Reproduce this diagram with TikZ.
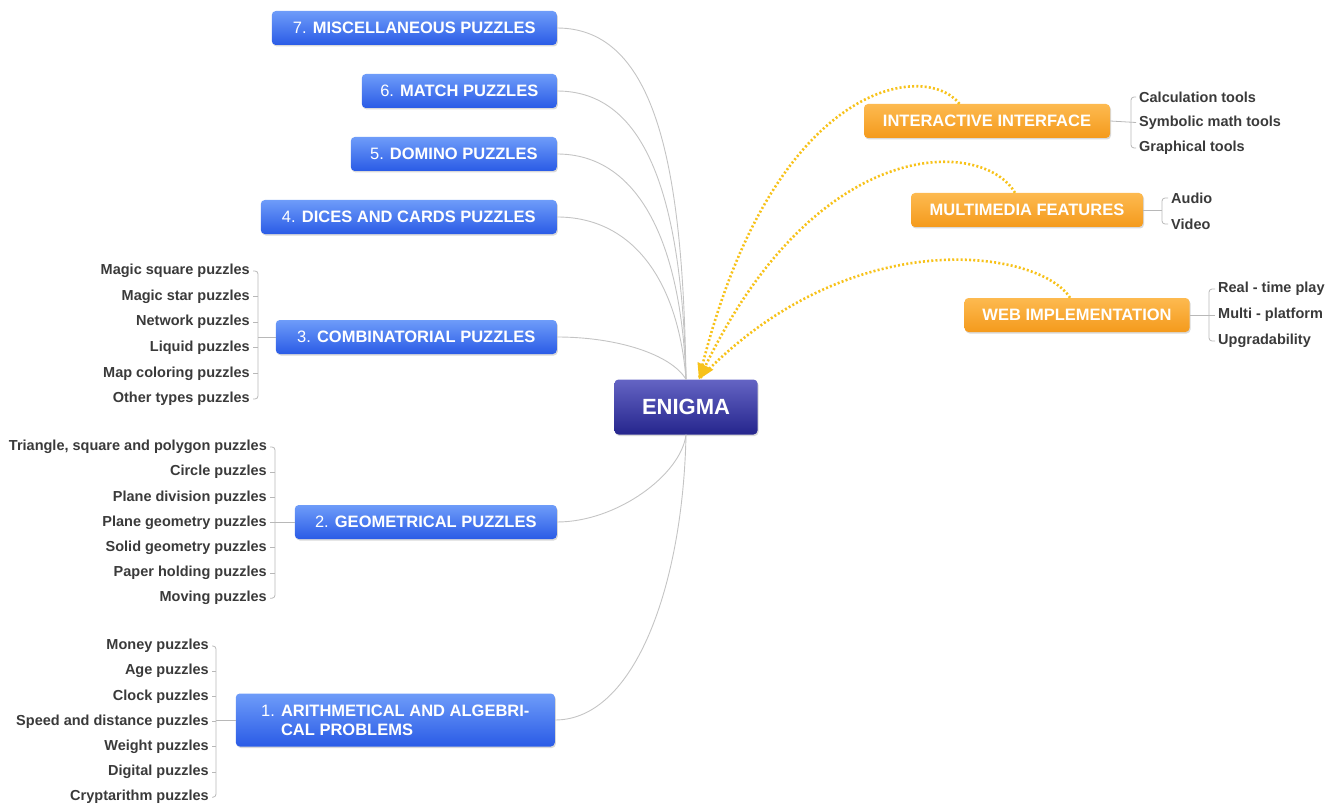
\documentclass[tikz,border=0pt]{standalone}
\usepackage{fontspec}
\setmainfont{Liberation Sans}
\usetikzlibrary{arrows.meta,shadows}

\definecolor{topicTop}{HTML}{6E9CF9}
\definecolor{topicBot}{HTML}{2A5BE6}
\definecolor{coreTop}{HTML}{6464C4}
\definecolor{coreBot}{HTML}{25258C}
\definecolor{featTop}{HTML}{FDBA50}
\definecolor{featBot}{HTML}{F49A1C}
\definecolor{leafgray}{HTML}{3A3A3A}
\definecolor{twiggray}{HTML}{B8B8B8}
\definecolor{linkgray}{HTML}{C4C4C4}
\definecolor{hintyellow}{HTML}{F7C21A}

\begin{document}
\begin{tikzpicture}[x=1pt,y=-1pt,
  topic/.style={rounded corners=4pt, top color=topicTop, bottom color=topicBot,
    text=white, font=\fontsize{16.5}{19}\selectfont, minimum height=34pt,
    inner xsep=10pt,
    drop shadow={opacity=0.3,shadow xshift=1pt,shadow yshift=-1.5pt}},
  feature/.style={topic, top color=featTop, bottom color=featBot,
    font=\fontsize{16.5}{19}\selectfont\bfseries},
  core/.style={topic, top color=coreTop, bottom color=coreBot,
    font=\fontsize{22}{26}\selectfont\bfseries, minimum width=143pt,
    minimum height=55pt},
  leaf/.style={font=\fontsize{14.5}{16}\selectfont\bfseries, text=leafgray,
    inner xsep=3pt, inner ysep=1pt},
  twig/.style={draw=twiggray, line width=0.8pt, rounded corners=3pt},
  link/.style={draw=linkgray, line width=0.9pt},
  hint/.style={draw=hintyellow, line width=2.6pt, dash pattern=on 2pt off 2.2pt},
  tip/.style={-{Triangle[width=17pt,length=15pt]}}]
  \useasboundingbox (0,0) rectangle (1341,805);

  % centre
  \node[core] (enigma) at (686,407) {ENIGMA};

  % puzzle families
  \node[topic, anchor=east, minimum width=285pt] (t7) at (557,28)
    {7. \textbf{MISCELLANEOUS PUZZLES}};
  \node[topic, anchor=east, minimum width=195pt] (t6) at (557,91)
    {6. \textbf{MATCH PUZZLES}};
  \node[topic, anchor=east, minimum width=206pt] (t5) at (557,154)
    {5. \textbf{DOMINO PUZZLES}};
  \node[topic, anchor=east, minimum width=296pt] (t4) at (557,217)
    {4. \textbf{DICES AND CARDS PUZZLES}};
  \node[topic, anchor=east, minimum width=281pt] (t3) at (557,337)
    {3. \textbf{COMBINATORIAL PUZZLES}};
  \node[topic, anchor=east, minimum width=262pt] (t2) at (557,522)
    {2. \textbf{GEOMETRICAL PUZZLES}};
  \node[topic, anchor=east, minimum width=319pt, minimum height=53pt,
    align=left] (t1) at (555,720)
    {1. \textbf{ARITHMETICAL AND ALGEBRI-}\\\phantom{1. }\textbf{CAL PROBLEMS}};

  % links to the centre
  \draw[link] (t7.east) .. controls +(100,0) and +(-3,-210) .. (enigma.north);
  \draw[link] (t6.east) .. controls +(90,0) and +(-4,-180) .. (enigma.north);
  \draw[link] (t5.east) .. controls +(80,0) and +(-5,-140) .. (enigma.north);
  \draw[link] (t4.east) .. controls +(75,0) and +(-8,-100) .. (enigma.north);
  \draw[link] (t3.east) .. controls +(60,0) and +(-15,-25) .. (enigma.north);
  \draw[link] (t2.east) .. controls +(60,0) and +(-5,40) .. (enigma.south);
  \draw[link] (t1.east) .. controls +(80,0) and +(-3,150) .. (enigma.south);

  % leaves of 3
  \foreach \t [count=\i] in {Magic square puzzles,Magic star puzzles,
      Network puzzles,Liquid puzzles,Map coloring puzzles,Other types puzzles}
    \node[leaf, anchor=east] (c\i) at (253,{245.4+25.6*\i}) {\t};
  \coordinate (cb) at (258,337);
  \draw[twig] (c1.east) -| (cb) |- (c6.east);
  \foreach \i in {2,...,5} \draw[twig] (c\i.east) -- (c\i.east -| cb);
  \draw[twig] (cb) -- (t3.west);

  % leaves of 2
  \foreach \t [count=\i] in {{Triangle, square and polygon puzzles},
      Circle puzzles,Plane division puzzles,Plane geometry puzzles,
      Solid geometry puzzles,Paper holding puzzles,Moving puzzles}
    \node[leaf, anchor=east] (g\i) at (270,{421.8+25.2*\i}) {\t};
  \coordinate (gb) at (275,522);
  \draw[twig] (g1.east) -| (gb) |- (g7.east);
  \foreach \i in {2,...,6} \draw[twig] (g\i.east) -- (g\i.east -| gb);
  \draw[twig] (gb) -- (t2.west);

  % leaves of 1
  \foreach \t [count=\i] in {Money puzzles,Age puzzles,Clock puzzles,
      Speed and distance puzzles,Weight puzzles,Digital puzzles,
      Cryptarithm puzzles}
    \node[leaf, anchor=east] (a\i) at (212,{620.8+25.2*\i}) {\t};
  \coordinate (ab) at (216,720);
  \draw[twig] (a1.east) -| (ab) |- (a7.east);
  \foreach \i in {2,...,6} \draw[twig] (a\i.east) -- (a\i.east -| ab);
  \draw[twig] (ab) -- (t1.west);

  % features
  \node[feature, minimum width=246pt] (ii) at (987,121) {INTERACTIVE INTERFACE};
  \node[feature, minimum width=232pt] (mf) at (1027,210) {MULTIMEDIA FEATURES};
  \node[feature, minimum width=225pt] (wi) at (1077,315) {WEB IMPLEMENTATION};

  \foreach \t [count=\i] in {Calculation tools,Symbolic math tools,Graphical tools}
    \node[leaf, anchor=west] (ii\i) at (1136,{71.5+25.5*\i}) {\t};
  \coordinate (ib) at (1131,122);
  \draw[twig] (ii1.west) -| (ib) |- (ii3.west);
  \draw[twig] (ii2.west) -- (ii.east);

  \foreach \t [count=\i] in {Audio,Video}
    \node[leaf, anchor=west] (mf\i) at (1168,{172+26*\i}) {\t};
  \coordinate (mb) at (1162,210);
  \draw[twig] (mf1.west) -| (mb) |- (mf2.west);
  \draw[twig] (mb) -- (mf.east);

  \foreach \t [count=\i] in {Real - time play,Multi - platform,Upgradability}
    \node[leaf, anchor=west] (wi\i) at (1215,{263+26*\i}) {\t};
  \coordinate (wb) at (1209,315);
  \draw[twig] (wi1.west) -| (wb) |- (wi3.west);
  \draw[twig] (wi2.west) -- (wi.east);

  % dotted hints into the centre
  \draw[hint] (ii.148) .. controls (925,60) and (770,80) .. (enigma.65);
  \draw[hint] (wi.112) .. controls (1040,250) and (850,220) .. (enigma.65);
  \draw[hint, tip] (mf.125) .. controls (985,140) and (820,130) .. (enigma.65);
\end{tikzpicture}
\end{document}
